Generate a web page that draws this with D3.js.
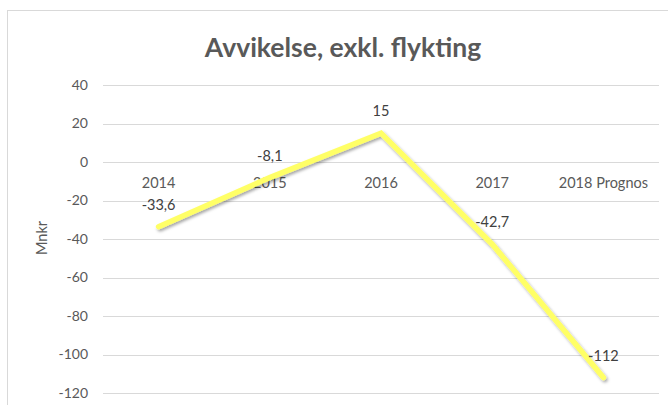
<!DOCTYPE html>
<html lang="sv">
<head>
<meta charset="utf-8">
<script src="https://d3js.org/d3.v7.min.js"></script>
<style>
  body { margin: 0; background: #fff; }
  text { font-family: Lato, "Open Sans", sans-serif; fill: #595959; }
</style>
</head>
<body>
<div id="chart"></div>
<script>
// data
const years = ["2014", "2015", "2016", "2017", "2018 Prognos"];
const values = [-33.6, -8.1, 15, -42.7, -112];
const labels = ["-33,6", "-8,1", "15", "-42,7", "-112"];
const yTicks = [40, 20, 0, -20, -40, -60, -80, -100, -120];

const W = 668, H = 405;
const plot = { left: 103, right: 659, top: 85, bottom: 393 };

const svg = d3.select("#chart").append("svg")
  .attr("width", W)
  .attr("height", H);

// shadow for the line
const defs = svg.append("defs");
const f = defs.append("filter").attr("id", "shadow")
  .attr("x", "-10%").attr("y", "-10%").attr("width", "120%").attr("height", "120%");
f.append("feDropShadow")
  .attr("dx", 1.5).attr("dy", 2)
  .attr("stdDeviation", 1.6)
  .attr("flood-color", "#000")
  .attr("flood-opacity", 0.35);

// chart frame (right and bottom edges run off the picture)
svg.append("rect")
  .attr("x", 7.5).attr("y", 10.5)
  .attr("width", 672).attr("height", 420)
  .attr("fill", "none")
  .attr("stroke", "#d9d9d9")
  .attr("stroke-width", 1);

const x = d3.scalePoint()
  .domain(years)
  .range([plot.left, plot.right])
  .padding(0.5);

const y = d3.scaleLinear()
  .domain([-120, 40])
  .range([plot.bottom, plot.top]);

// gridlines
svg.append("g")
  .selectAll("line")
  .data(yTicks)
  .join("line")
  .attr("x1", plot.left)
  .attr("x2", plot.right)
  .attr("y1", d => Math.round(y(d)) + 0.5)
  .attr("y2", d => Math.round(y(d)) + 0.5)
  .attr("stroke", "#d9d9d9")
  .attr("stroke-width", 1);

// y axis labels
svg.append("g")
  .selectAll("text")
  .data(yTicks)
  .join("text")
  .attr("x", 88)
  .attr("y", d => y(d))
  .attr("dy", "0.35em")
  .attr("text-anchor", "end")
  .style("font-size", "14px")
  .text(d => d);

// category labels sit just under the zero line
svg.append("g")
  .selectAll("text")
  .data(years)
  .join("text")
  .attr("x", d => x(d))
  .attr("y", y(0) + 26)
  .attr("text-anchor", "middle")
  .style("font-size", "14.5px")
  .text(d => d);

// axis title
svg.append("text")
  .attr("transform", `translate(47,${(plot.top + plot.bottom) / 2 - 1}) rotate(-90)`)
  .attr("text-anchor", "middle")
  .style("font-size", "14.5px")
  .text("Mnkr");

// chart title
svg.append("text")
  .attr("x", 343)
  .attr("y", 57)
  .attr("text-anchor", "middle")
  .style("font-size", "26.5px")
  .style("font-weight", "bold")
  .text("Avvikelse, exkl. flykting");

// the line
const line = d3.line()
  .x((d, i) => x(years[i]))
  .y(d => y(d));

svg.append("path")
  .datum(values)
  .attr("d", line)
  .attr("fill", "none")
  .attr("stroke", "#ffff66")
  .attr("stroke-width", 5.5)
  .attr("stroke-linecap", "round")
  .attr("stroke-linejoin", "miter")
  .attr("filter", "url(#shadow)");

// data labels
svg.append("g")
  .selectAll("text")
  .data(values)
  .join("text")
  .attr("x", (d, i) => x(years[i]))
  .attr("y", d => y(d) - 17)
  .attr("text-anchor", "middle")
  .style("font-size", "14.5px")
  .style("fill", "#404040")
  .text((d, i) => labels[i]);
</script>
</body>
</html>
